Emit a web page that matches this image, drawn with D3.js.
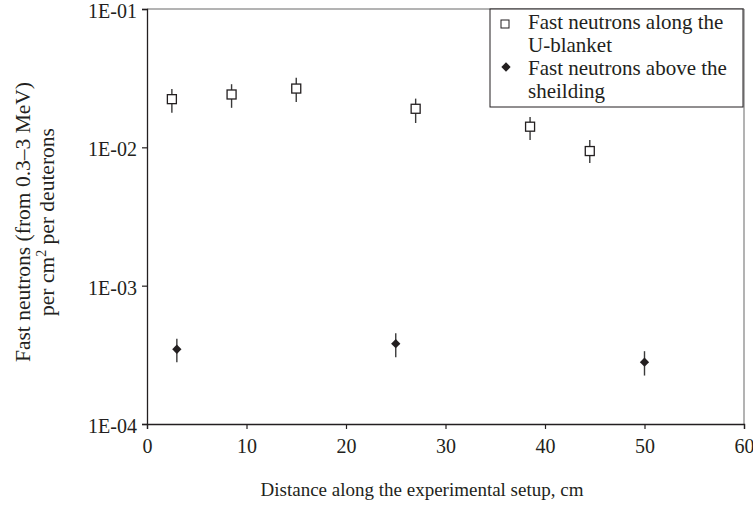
<!DOCTYPE html>
<html>
<head>
<meta charset="utf-8">
<script src="https://cdn.jsdelivr.net/npm/d3@7"></script>
<style>
  body { margin: 0; background: #fff; }
  svg text { font-family: "Liberation Serif", "DejaVu Serif", serif; fill: #231f20; }
</style>
</head>
<body>
<svg id="chart" width="753" height="506"></svg>
<script>
// Fast neutrons along the U-blanket (open squares)
const blanketX = [2.5, 8.5, 15, 27, 38.5, 44.5];
const blanketY = [0.0223, 0.0241, 0.0266, 0.0190, 0.0141, 0.0094];
const blanketLo = [0.0178, 0.0193, 0.0213, 0.0150, 0.0113, 0.0077];
const blanketHi = [0.0264, 0.0286, 0.0318, 0.0225, 0.0166, 0.0113];

// Fast neutrons above the shielding (filled diamonds)
const shieldX = [3, 25, 50];
const shieldY = [0.000347, 0.000381, 0.000280];
const shieldLo = [0.000280, 0.000304, 0.000224];
const shieldHi = [0.000414, 0.000453, 0.000336];

const xTicks = [0, 10, 20, 30, 40, 50, 60];
const yTicks = [1e-4, 1e-3, 1e-2, 1e-1];
const yTickLabels = ["1E-04", "1E-03", "1E-02", "1E-01"];

const serif = "'Liberation Serif', 'DejaVu Serif', serif";
const svg = d3.select("#chart");
const margin = { top: 9, right: 9, bottom: 82, left: 147 };
const width = 753 - margin.left - margin.right;
const height = 506 - margin.top - margin.bottom;

const g = svg.append("g").attr("transform", `translate(${margin.left},${margin.top})`);
const x = d3.scaleLinear().domain([0, 60]).range([0, width]);
const y = d3.scaleLog().domain([1e-4, 1e-1]).range([height, 0]);

// grey frame on top and right
g.append("line").attr("x1", 0).attr("x2", width).attr("y1", 0).attr("y2", 0)
  .attr("stroke", "#9a9a9a").attr("stroke-width", 1.5);
g.append("line").attr("x1", width).attr("x2", width).attr("y1", 0).attr("y2", height)
  .attr("stroke", "#9a9a9a").attr("stroke-width", 1.5);

// axes
const yAxis = g.append("g")
  .call(d3.axisLeft(y).tickValues(yTicks).tickFormat((d, i) => yTickLabels[i]).tickSizeOuter(0).tickSize(5).tickPadding(5));
const xAxis = g.append("g")
  .attr("transform", `translate(0,${height})`)
  .call(d3.axisBottom(x).tickValues(xTicks).tickSizeOuter(0).tickSize(5).tickPadding(10));

[yAxis, xAxis].forEach(a => {
  a.attr("font-family", serif).attr("font-size", 20);
  a.select(".domain").attr("stroke", "#231f20").attr("stroke-width", 1.3);
  a.selectAll(".tick line").attr("stroke", "#231f20").attr("stroke-width", 1.2);
  a.selectAll(".tick text").attr("fill", "#231f20");
});
yAxis.selectAll(".tick text").attr("dy", "0.42em");

// error bars
const blanket = blanketX.map((d, i) => ({ x: d, y: blanketY[i], lo: blanketLo[i], hi: blanketHi[i] }));
const shield = shieldX.map((d, i) => ({ x: d, y: shieldY[i], lo: shieldLo[i], hi: shieldHi[i] }));

g.selectAll(".err")
  .data(blanket.concat(shield))
  .join("line")
  .attr("x1", d => x(d.x)).attr("x2", d => x(d.x))
  .attr("y1", d => y(d.lo)).attr("y2", d => y(d.hi))
  .attr("stroke", "#3a3a3a").attr("stroke-width", 1.4);

const sq = 9;
g.selectAll(".sq")
  .data(blanket)
  .join("rect")
  .attr("x", d => x(d.x) - sq / 2).attr("y", d => y(d.y) - sq / 2)
  .attr("width", sq).attr("height", sq)
  .attr("fill", "#fff").attr("stroke", "#231f20").attr("stroke-width", 1.3);

const diamond = d3.symbol().type(d3.symbolDiamond2).size(55);
g.selectAll(".dm")
  .data(shield)
  .join("path")
  .attr("transform", d => `translate(${x(d.x)},${y(d.y)})`)
  .attr("d", diamond)
  .attr("fill", "#231f20");

// legend
const legend = g.append("g").attr("transform", `translate(${490 - margin.left},0)`);
legend.append("rect")
  .attr("x", 0).attr("y", 0).attr("width", 253).attr("height", 98)
  .attr("fill", "#fff").attr("stroke", "#231f20").attr("stroke-width", 1);
legend.append("rect")
  .attr("x", 11).attr("y", 11).attr("width", 8).attr("height", 8)
  .attr("fill", "#fff").attr("stroke", "#231f20").attr("stroke-width", 1);
legend.append("path")
  .attr("transform", "translate(16,58)")
  .attr("d", diamond)
  .attr("fill", "#231f20");
const legendLines = [
  ["Fast neutrons along the", 20],
  ["U-blanket", 43],
  ["Fast neutrons above the", 66],
  ["sheilding", 89]
];
legend.selectAll(".lt")
  .data(legendLines)
  .join("text")
  .attr("x", 38).attr("y", d => d[1])
  .attr("font-size", 21)
  .text(d => d[0]);

// axis titles
svg.append("text")
  .attr("x", 422).attr("y", 496)
  .attr("text-anchor", "middle")
  .attr("font-size", 19)
  .text("Distance along the experimental setup, cm");

const yTitle = svg.append("text")
  .attr("transform", "translate(30,222) rotate(-90)")
  .attr("text-anchor", "middle")
  .attr("font-size", 21.5);
yTitle.append("tspan").attr("x", 0).attr("y", 0).text("Fast neutrons (from 0.3\u20133 MeV)");
const l2 = yTitle.append("tspan").attr("x", 0).attr("y", 24);
l2.append("tspan").text("per cm");
l2.append("tspan").attr("dy", -8).attr("font-size", 14).text("2");
l2.append("tspan").attr("dy", 8).text(" per deuterons");
</script>
</body>
</html>
